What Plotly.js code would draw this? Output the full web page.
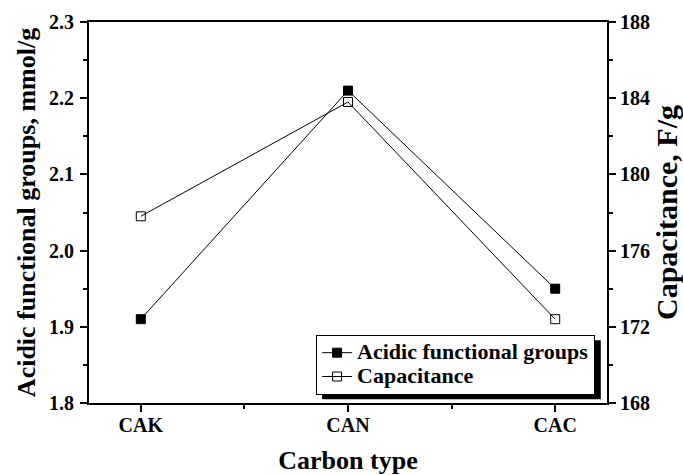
<!DOCTYPE html>
<html>
<head>
<meta charset="utf-8">
<script src="https://cdn.plot.ly/plotly-3.0.1.min.js"></script>
<style>
  html, body { margin: 0; padding: 0; background: #fff; }
  #chart { width: 683px; height: 475px; }
</style>
</head>
<body>
<div id="chart"></div>
<script>
// Carbon samples and their measured properties
const carbonTypes = ['CAK', 'CAN', 'CAC'];
const acidicGroups = [1.91, 2.21, 1.95];      // mmol/g
const capacitance = [177.8, 183.8, 172.4];    // F/g

const acidTickVals = [1.8, 1.9, 2.0, 2.1, 2.2, 2.3];
const capTickVals = [168, 172, 176, 180, 184, 188];

const FONT = 'Liberation Serif, Times New Roman, serif';
const xIndex = carbonTypes.map((_, i) => i);
const bold = s => '<b>' + s + '</b>';
// legend entries: large text inside compact rows
const legendName = s => '<span style="font-size:22px"><b>' + s + '</b></span>';

const traces = [
  {
    x: xIndex, y: acidicGroups, name: legendName('Acidic functional groups'),
    type: 'scatter', mode: 'lines+markers', yaxis: 'y',
    line: { color: '#000', width: 1 },
    marker: { symbol: 'square', size: 9, color: '#000', line: { color: '#000', width: 1 } }
  },
  {
    x: xIndex, y: capacitance, name: legendName('Capacitance'),
    type: 'scatter', mode: 'lines+markers', yaxis: 'y2',
    line: { color: '#000', width: 1 },
    marker: { symbol: 'square-open', size: 9, color: '#000', line: { color: '#000', width: 1 } }
  }
];

const tickFont = { family: FONT, size: 20, color: '#000', weight: 700 };
const titleFont = { family: FONT, size: 26, color: '#000', weight: 700 };

// legend box edges in paper coordinates
const legX1 = 0.977, legY1 = 0.179;

const layout = {
  width: 683, height: 475,
  margin: { l: 89, r: 76, t: 22, b: 72 },
  paper_bgcolor: '#fff', plot_bgcolor: '#fff',
  showlegend: true,
  legend: {
    x: legX1, y: legY1, xanchor: 'right', yanchor: 'top',
    bgcolor: '#fff', bordercolor: '#000', borderwidth: 1,
    font: { family: FONT, size: 16, color: '#000', weight: 700 },
    itemwidth: 30, tracegroupgap: 0
  },
  xaxis: {
    range: [-0.25, 2.25],
    tickmode: 'array', tickvals: xIndex, ticktext: carbonTypes.map(bold),
    ticks: 'outside', ticklen: 7, tickwidth: 2, tickcolor: '#000',
    ticklabelstandoff: -4,
    minor: { tickmode: 'array', tickvals: [0.5, 1.5], ticks: 'outside', ticklen: 4, tickwidth: 2, tickcolor: '#000' },
    showline: true, linewidth: 2, linecolor: '#000', mirror: true,
    showgrid: false, zeroline: false,
    tickfont: tickFont,
    title: { text: bold('Carbon type'), font: titleFont, standoff: 21 }
  },
  yaxis: {
    range: [1.8, 2.3],
    tickmode: 'array', tickvals: acidTickVals, ticktext: acidTickVals.map(v => bold(v.toFixed(1))),
    ticks: 'outside', ticklen: 7, tickwidth: 2, tickcolor: '#000',
    ticklabelstandoff: 2,
    minor: { dtick: 0.05, ticks: 'outside', ticklen: 4, tickwidth: 2, tickcolor: '#000' },
    showline: true, linewidth: 2, linecolor: '#000',
    showgrid: false, zeroline: false,
    tickfont: tickFont,
    title: { text: bold('Acidic functional groups, mmol/g'), font: titleFont, standoff: 6 }
  },
  yaxis2: {
    overlaying: 'y', side: 'right',
    range: [168, 188],
    tickmode: 'array', tickvals: capTickVals, ticktext: capTickVals.map(v => bold(String(v))),
    ticks: 'outside', ticklen: 7, tickwidth: 2, tickcolor: '#000',
    minor: { dtick: 2, ticks: 'outside', ticklen: 4, tickwidth: 2, tickcolor: '#000' },
    showline: true, linewidth: 2, linecolor: '#000',
    showgrid: false, zeroline: false,
    tickfont: tickFont,
    title: { text: bold('Capacitance, F/g'), font: { family: FONT, size: 30, color: '#000', weight: 700 }, standoff: 3 }
  },
  shapes: [
    // drop shadow behind the legend box
    { type: 'rect', xref: 'paper', yref: 'paper', layer: 'above',
      x0: 0.45, x1: 0.988, y0: 0.010, y1: 0.165,
      fillcolor: '#000', line: { width: 0 } }
  ]
};

Plotly.newPlot('chart', traces, layout, { displayModeBar: false, staticPlot: true });
</script>
</body>
</html>
